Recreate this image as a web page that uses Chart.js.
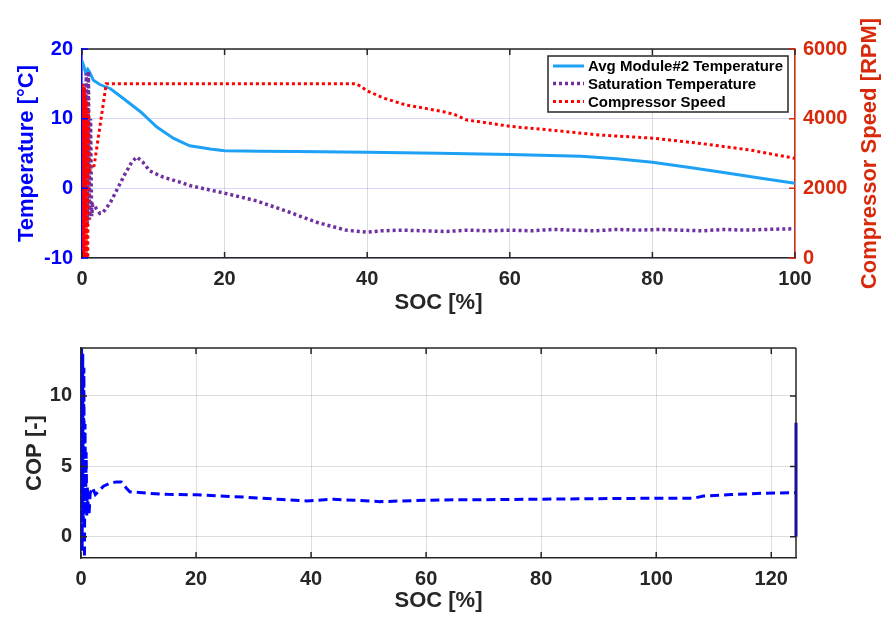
<!DOCTYPE html>
<html>
<head>
<meta charset="utf-8">
<script src="https://cdn.jsdelivr.net/npm/chart.js@4.4.1/dist/chart.umd.min.js"></script>
<style>
  html, body { margin: 0; padding: 0; background: #fff; }
  #wrap { position: relative; width: 883px; height: 619px; }
  #topChart { position: absolute; left: 0; top: 0; }
  #botChart { position: absolute; left: 0; top: 320px; }
</style>
</head>
<body>
<div id="wrap">
  <canvas id="topChart" width="883" height="320"></canvas>
  <canvas id="botChart" width="883" height="299"></canvas>
</div>
<script>
// --- data ---
const avgSoc  = [0,0.3,0.5,0.8,1.0,1.6,2.5,4.0,5.8,8.2,10.5,12.8,15.1,18,20,25,30,40,50,60,70,75,80,85,90,95,100];
const avgTemp = [18.3,17.4,16.6,17.1,16.8,15.5,14.9,14.3,12.9,11.0,8.8,7.2,6.1,5.65,5.4,5.32,5.27,5.17,5.05,4.85,4.6,4.25,3.75,3.03,2.26,1.48,0.72];

const satSoc  = [0,0.15,0.3,0.45,0.6,0.75,0.9,1.05,1.2,1.35,1.5,1.7,2.0,2.5,3.0,4,5,6,7,7.7,8.5,9.5,11.4,13.7,15.1,20,24.5,29,33,37,40,42,45,48,51,54,57,60,63,66,69,72,75,78,81,84,87,90,93,96,100];
const satTemp = [12,-3,15,-4.5,16.5,-5,16.8,-4.5,10,-4,-2.3,-2.5,-2.9,-3.6,-3.4,-2,0,2,3.8,4.5,3.8,2.5,1.6,0.9,0.4,-0.7,-1.8,-3.4,-4.9,-6.0,-6.3,-6.1,-6.0,-6.1,-6.2,-6.0,-6.1,-6.0,-6.1,-5.9,-6.0,-6.1,-5.9,-6.0,-5.9,-6.0,-6.1,-5.9,-6.0,-5.9,-5.8];

const compSoc = [0,0.1,0.2,0.3,0.4,0.5,0.6,0.7,0.8,0.9,1.0,1.3,1.7,3.4,38.5,40,42.3,45.5,48,50.7,52.1,54,57.2,60,65.6,72.6,80.1,86.7,93.7,100];
const compRpm = [0,5000,0,4900,0,4700,0,4500,0,4200,2500,2600,2650,5000,5000,4800,4590,4390,4300,4200,4130,3960,3870,3780,3675,3530,3440,3290,3100,2860];

const copSoc = [0,0.1,0.2,0.3,0.4,0.5,0.6,0.7,0.8,0.9,1.0,1.1,1.2,1.4,1.6,2.0,2.5,3.0,3.9,5.0,6.2,7.0,7.9,8.5,11.4,15,20.1,28.8,35,39.3,43.9,52,57.8,62.4,70,79.8,90,100,106.5,108.2,113,118.7,124.2];
const cop    = [0,13.4,-1,13,1,12,-1.5,8,2,6,1.5,3.5,2.5,1.6,3.1,3.5,3.0,3.2,3.6,3.8,3.9,3.9,3.45,3.2,3.1,3.02,2.98,2.81,2.65,2.55,2.67,2.5,2.57,2.62,2.64,2.67,2.71,2.74,2.74,2.9,3.0,3.1,3.14];
const endSoc = [124.3, 124.3];
const endCop = [8.1, 0];

const socTicks  = [0, 20, 40, 60, 80, 100];
const tempTicks = [-10, 0, 10, 20];
const rpmTicks  = [0, 2000, 4000, 6000];
const socTicks2 = [0, 20, 40, 60, 80, 100, 120];
const copTicks  = [0, 5, 10];

const pts = (xs, ys) => xs.map((x, i) => ({ x: x, y: ys[i] }));

const FAM = "'Liberation Sans', Arial, sans-serif";
const tickFont  = { family: FAM, weight: 'bold', size: 20 };
const titleFont = { family: FAM, weight: 'bold', size: 22 };
const DARK = '#262626';
const BLUE = '#0000ff';
const RED  = '#d9290b';
const plain = v => String(v);

const setTicks = (vals) => (s) => { s.ticks = vals.map(v => ({ value: v })); };

// frame, inward ticks, rotated right title, legend
const extras = {
  id: 'extras',
  afterDraw(chart, args, o) {
    const { ctx, chartArea: a, scales } = chart;
    ctx.save();
    ctx.lineWidth = 1.5;
    ctx.strokeStyle = DARK;
    ctx.beginPath();
    ctx.moveTo(a.left, a.top); ctx.lineTo(a.right, a.top);
    if (!scales.y2) { ctx.moveTo(a.right, a.top); ctx.lineTo(a.right, a.bottom); }
    ctx.stroke();
    // inward tick marks
    const L = 6;
    ctx.beginPath();
    scales.x.ticks.forEach(t => {
      const px = scales.x.getPixelForValue(t.value);
      ctx.moveTo(px, a.bottom); ctx.lineTo(px, a.bottom - L);
      ctx.moveTo(px, a.top); ctx.lineTo(px, a.top + L);
    });
    if (!scales.y2) {
      scales.y.ticks.forEach(t => {
        const py = scales.y.getPixelForValue(t.value);
        ctx.moveTo(a.right, py); ctx.lineTo(a.right - L, py);
      });
    }
    ctx.stroke();
    ctx.strokeStyle = scales.y2 ? BLUE : DARK;
    ctx.beginPath();
    scales.y.ticks.forEach(t => {
      const py = scales.y.getPixelForValue(t.value);
      ctx.moveTo(a.left, py); ctx.lineTo(a.left + L, py);
    });
    ctx.stroke();
    if (scales.y2) {
      ctx.strokeStyle = RED;
      ctx.beginPath();
      scales.y2.ticks.forEach(t => {
        const py = scales.y2.getPixelForValue(t.value);
        ctx.moveTo(a.right, py); ctx.lineTo(a.right - L, py);
      });
      ctx.stroke();
      // right title, reading bottom to top like the left one
      ctx.save();
      ctx.translate(870, (a.top + a.bottom) / 2);
      ctx.rotate(-Math.PI / 2);
      ctx.fillStyle = RED;
      ctx.font = 'bold 22px ' + FAM;
      ctx.textAlign = 'center';
      ctx.textBaseline = 'middle';
      ctx.fillText('Compressor Speed [RPM]', 0, 0);
      ctx.restore();
    }
    if (o.legend) {
      const bx = 548, by = 56, bw = 240, bh = 56;
      ctx.fillStyle = '#fff';
      ctx.fillRect(bx, by, bw, bh);
      ctx.strokeStyle = DARK;
      ctx.lineWidth = 1.5;
      ctx.strokeRect(bx, by, bw, bh);
      ctx.font = 'bold 15px ' + FAM;
      ctx.textBaseline = 'middle';
      ctx.textAlign = 'left';
      const rows = [66, 83.5, 101.5];
      chart.data.datasets.forEach((d, i) => {
        const y = rows[i];
        ctx.strokeStyle = d.borderColor;
        ctx.lineWidth = d.borderWidth;
        ctx.setLineDash(d.borderDash || []);
        ctx.beginPath(); ctx.moveTo(553, y); ctx.lineTo(584, y); ctx.stroke();
        ctx.setLineDash([]);
        ctx.fillStyle = '#000';
        ctx.fillText(d.label, 588, y + 1);
      });
    }
    ctx.restore();
  }
};

new Chart(document.getElementById('topChart'), {
  type: 'line',
  data: {
    datasets: [
      { label: 'Avg Module#2 Temperature', data: pts(avgSoc, avgTemp), yAxisID: 'y',
        borderColor: '#1ea1f5', borderWidth: 3, order: 3 },
      { label: 'Saturation Temperature', data: pts(satSoc, satTemp), yAxisID: 'y',
        borderColor: '#7030a0', borderWidth: 3.5, borderDash: [3, 3], order: 2 },
      { label: 'Compressor Speed', data: pts(compSoc, compRpm), yAxisID: 'y2',
        borderColor: '#ff0000', borderWidth: 3, borderDash: [3, 3], order: 1 }
    ]
  },
  options: {
    responsive: false,
    animation: false,
    layout: { padding: { top: 49, left: 0, right: 0, bottom: 0 } },
    elements: { point: { radius: 0 }, line: { tension: 0 } },
    plugins: { legend: { display: false }, tooltip: { enabled: false }, extras: { legend: true } },
    scales: {
      x: {
        type: 'linear', min: 0, max: 100,
        afterBuildTicks: setTicks(socTicks),
        afterFit(s) { s.height = 62; },
        ticks: { color: DARK, font: tickFont, padding: 9, callback: plain },
        grid: { color: 'rgba(0,0,0,0.14)', drawTicks: false },
        border: { color: DARK, width: 1.5 },
        title: { display: true, text: 'SOC [%]', color: DARK, font: titleFont, padding: { top: 0, bottom: 4 } }
      },
      y: {
        position: 'left', min: -10, max: 20,
        afterBuildTicks: setTicks(tempTicks),
        afterFit(s) { s.width = 82; },
        ticks: { color: BLUE, font: tickFont, padding: 9, callback: plain },
        grid: { color: 'rgba(120,120,255,0.3)', drawTicks: false },
        border: { color: BLUE, width: 1.5 },
        title: { display: true, text: 'Temperature [°C]', color: BLUE, font: titleFont, padding: { top: 14, bottom: 0 } }
      },
      y2: {
        position: 'right', min: 0, max: 6000,
        afterBuildTicks: setTicks(rpmTicks),
        afterFit(s) { s.width = 88; },
        ticks: { color: RED, font: tickFont, padding: 8, callback: plain },
        grid: { display: false, drawTicks: false },
        border: { color: RED, width: 1.5 }
      }
    }
  },
  plugins: [extras]
});

new Chart(document.getElementById('botChart'), {
  type: 'line',
  data: {
    datasets: [
      { label: 'COP', data: pts(copSoc, cop), borderColor: BLUE, borderWidth: 3, borderDash: [9, 5] },
      { label: 'COP end', data: pts(endSoc, endCop), borderColor: BLUE, borderWidth: 3, clip: 4 }
    ]
  },
  options: {
    responsive: false,
    animation: false,
    layout: { padding: { top: 28, left: 0, right: 87, bottom: 0 } },
    elements: { point: { radius: 0 }, line: { tension: 0 } },
    plugins: { legend: { display: false }, tooltip: { enabled: false }, extras: { legend: false } },
    scales: {
      x: {
        type: 'linear', min: 0, max: 124.3,
        afterBuildTicks: setTicks(socTicks2),
        afterFit(s) { s.height = 61; },
        ticks: { color: DARK, font: tickFont, padding: 9, callback: plain },
        grid: { color: 'rgba(0,0,0,0.13)', drawTicks: false },
        border: { color: DARK, width: 1.5 },
        title: { display: true, text: 'SOC [%]', color: DARK, font: titleFont, padding: { top: 0, bottom: 5 } }
      },
      y: {
        position: 'left', min: -1.5, max: 13.4,
        afterBuildTicks: setTicks(copTicks),
        afterFit(s) { s.width = 81; },
        ticks: { color: DARK, font: tickFont, padding: 9, callback: plain },
        grid: { color: 'rgba(0,0,0,0.13)', drawTicks: false },
        border: { color: DARK, width: 1.5 },
        title: { display: true, text: 'COP [-]', color: DARK, font: titleFont, padding: { top: 22, bottom: 0 } }
      }
    }
  },
  plugins: [extras]
});
</script>
</body>
</html>
